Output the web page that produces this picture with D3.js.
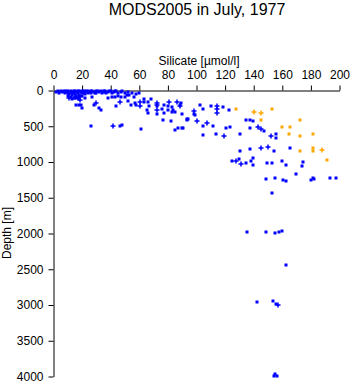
<!DOCTYPE html>
<html>
<head>
<meta charset="utf-8">
<script src="https://cdn.jsdelivr.net/npm/d3@7"></script>
<style>
  body { margin: 0; background: #fff; }
  svg text { font-family: "Liberation Sans", Arial, Helvetica, sans-serif; }
</style>
</head>
<body>
<svg id="chart" width="351" height="384"></svg>
<script>

// silicate [umol/l], depth [m]
var accepted = [
    // surface cluster
    [2,20],[3,10],[4,30],[5,0],[6,15],[7,5],[8,20],[8,40],[9,0],[10,10],[10,30],[11,50],
    [12,0],[12,20],[13,40],[13,60],[14,10],[14,30],[15,0],[15,50],[16,20],[16,70],[17,10],
    [17,40],[18,0],[18,60],[19,20],[19,80],[20,10],[20,40],[21,0],[21,30],[22,50],[22,20],
    [23,10],[24,0],[24,40],[25,20],[26,10],[26,30],[27,0],[28,20],[29,40],[30,10],[30,30],
    [31,0],[32,20],[33,10],[34,30],[35,0],[35,20],[36,10],[37,40],[38,20],[39,0],[40,10],
    [41,30],[42,20],[43,0],[44,10],[45,30],[47,20],[48,10],[50,40],[52,20],[55,30],[58,50],
    [60,40],[10,70],[12,90],[14,100],[16,80],[18,90],[20,70],[22,100],[13,120],[15,110],
    // shallow
    [14.7,94],[15.7,196],[17.5,196],[19.2,196],[19.6,248],[16.4,108],[17.5,116],[26.9,84],
    [28.0,200],[31.5,248],[32.9,270],[26.4,490],[46.6,490],[47.6,476],[43.4,220],[38.0,102],
    [40.8,94],[42.7,94],[45.0,80],[47.3,94],[49.7,94],[51.3,56],[53.1,60],[52.4,144],
    [54.5,196],[56.4,94],[57.3,168],[57.8,200],[63.6,112],[63.6,158],[61.5,536],[66.2,158],
    [67.1,214],[68.5,112],[65.7,266],[66.4,312],[72.5,214],[72.5,326],[76.2,256],[77.4,206],
    [77.6,312],[76.5,410],[80.4,220],[80.4,266],[82.8,234],[83.5,266],[82.8,304],[85.1,298],
    [88.6,200],[82.5,424],[85.1,546],[87.4,518],[90.5,528],[93.5,406],[94.2,396],[98.6,326],
    // intermediate and deep
    [89.5,172],[102.1,200],[104.5,256],[110.3,210],[118.2,224],[122.7,270],[90.0,326],
    [99.1,340],[93.5,402],[104.2,500],[111.2,494],[120.3,522],[123.1,504],[134.3,410],
    [137.1,410],[139.2,424],[90.2,528],[137.1,528],[147.1,564],[104.2,620],[113.3,606],
    [130.1,612],[155.9,606],[155.9,662],[130.1,844],[137.1,816],[154.5,844],[165.7,808],
    [124.5,990],[129.4,956],[134.3,1018],[138.0,990],[139.2,948],[139.2,1040],[149.2,1012],
    [153.1,1012],[160.1,984],[162.9,1040],[174.8,1004],[174.1,1054],[148.3,1236],[155.2,1222],
    [160.8,1250],[162.9,1264],[169.9,1172],[180.0,1250],[181.4,1218],[182.1,1236],[193.7,1222],
    [197.9,1222],[153.1,1438],[135.0,1978],[148.9,1978],[155.2,1992],[158.0,1978],[160.1,1964],
    [162.9,2440],[142.0,2964],[153.8,2950],[155.9,2986],[155.0,3966],[154.3,3990],[156.1,3990]
];

var acceptedCtd = [
    [88.6,210],[114.3,210],[114.3,256],[114.3,312],[98.4,290],[100.3,424],[107.5,452],
    [142.9,508],[145.2,536],[119.2,634],[152.0,630],[145.0,802],[149.9,788],[127.3,980],
    [131.0,1026],[157.1,3000],[10.5,102],[18.2,130],[29.9,178],[41.5,490],[46.6,158],
    [60.4,158],[60.4,214],[72.3,168],[72.3,200],[72.3,270],[86.5,158],[81.1,154]
];

var flagged = [
    [127.3,256],[153.1,256],[145.0,406],[172.7,410],[160.1,508],[165.7,508],[165.0,606],
    [172.7,634],[181.8,612],[172.7,844],[181.8,802],[181.8,844],[191.6,970]
];

var flaggedCtd = [
    [140.1,298],[145.0,312],[187.7,830]
];

var xTicks = [0, 20, 40, 60, 80, 100, 120, 140, 160, 180, 200];
var yTicks = [0, 500, 1000, 1500, 2000, 2500, 3000, 3500, 4000];

var svg = d3.select("#chart");

var x = d3.scaleLinear().domain([0, 200]).range([53.5, 339.5]);
var y = d3.scaleLinear().domain([0, 4000]).range([90.5, 376.5]);

// title
svg.append("text")
    .attr("x", 197)
    .attr("y", 15)
    .attr("text-anchor", "middle")
    .attr("font-size", 16)
    .text("MODS2005 in July, 1977");

svg.append("text")
    .attr("x", 199)
    .attr("y", 65)
    .attr("text-anchor", "middle")
    .attr("font-size", 12)
    .text("Silicate [\u00b5mol/l]");

svg.append("text")
    .attr("transform", "translate(11,233) rotate(-90)")
    .attr("text-anchor", "middle")
    .attr("font-size", 12)
    .text("Depth [m]");

// axes
var xAxis = svg.append("g")
    .attr("transform", "translate(0,90.5)")
    .call(d3.axisTop(x).tickValues(xTicks).tickSize(5).tickSizeOuter(0).tickPadding(7)
        .tickFormat(d3.format("d")));

var yAxis = svg.append("g")
    .attr("transform", "translate(53.5,0)")
    .call(d3.axisLeft(y).tickValues(yTicks).tickSize(5).tickSizeOuter(0).tickPadding(5)
        .tickFormat(d3.format("d")));

[xAxis, yAxis].forEach(function(g) {
    g.selectAll("text").attr("font-size", 12).attr("font-family", null).attr("fill", "#000");
    g.selectAll("line, path").attr("stroke", "#000");
});

function squares(data, color) {
    svg.append("g").selectAll("rect")
        .data(data)
        .enter()
        .append("rect")
        .attr("x", function(d) { return Math.round(x(d[0])) - 1.5; })
        .attr("y", function(d) { return Math.round(y(d[1])) - 1.5; })
        .attr("width", 3)
        .attr("height", 3)
        .attr("fill", color);
}

function pluses(data, color) {
    svg.append("g").selectAll("path")
        .data(data)
        .enter()
        .append("path")
        .attr("d", function(d) {
            var cx = Math.round(x(d[0])), cy = Math.round(y(d[1]));
            return "M" + (cx - 2.5) + "," + cy + "H" + (cx + 2.5) +
                   "M" + cx + "," + (cy - 2.5) + "V" + (cy + 2.5);
        })
        .attr("stroke", color)
        .attr("stroke-width", 1.5)
        .attr("fill", "none");
}

squares(accepted, "#0000ff");
pluses(acceptedCtd, "#0000ff");
squares(flagged, "#ffa500");
pluses(flaggedCtd, "#ffa500");

</script>
</body>
</html>
